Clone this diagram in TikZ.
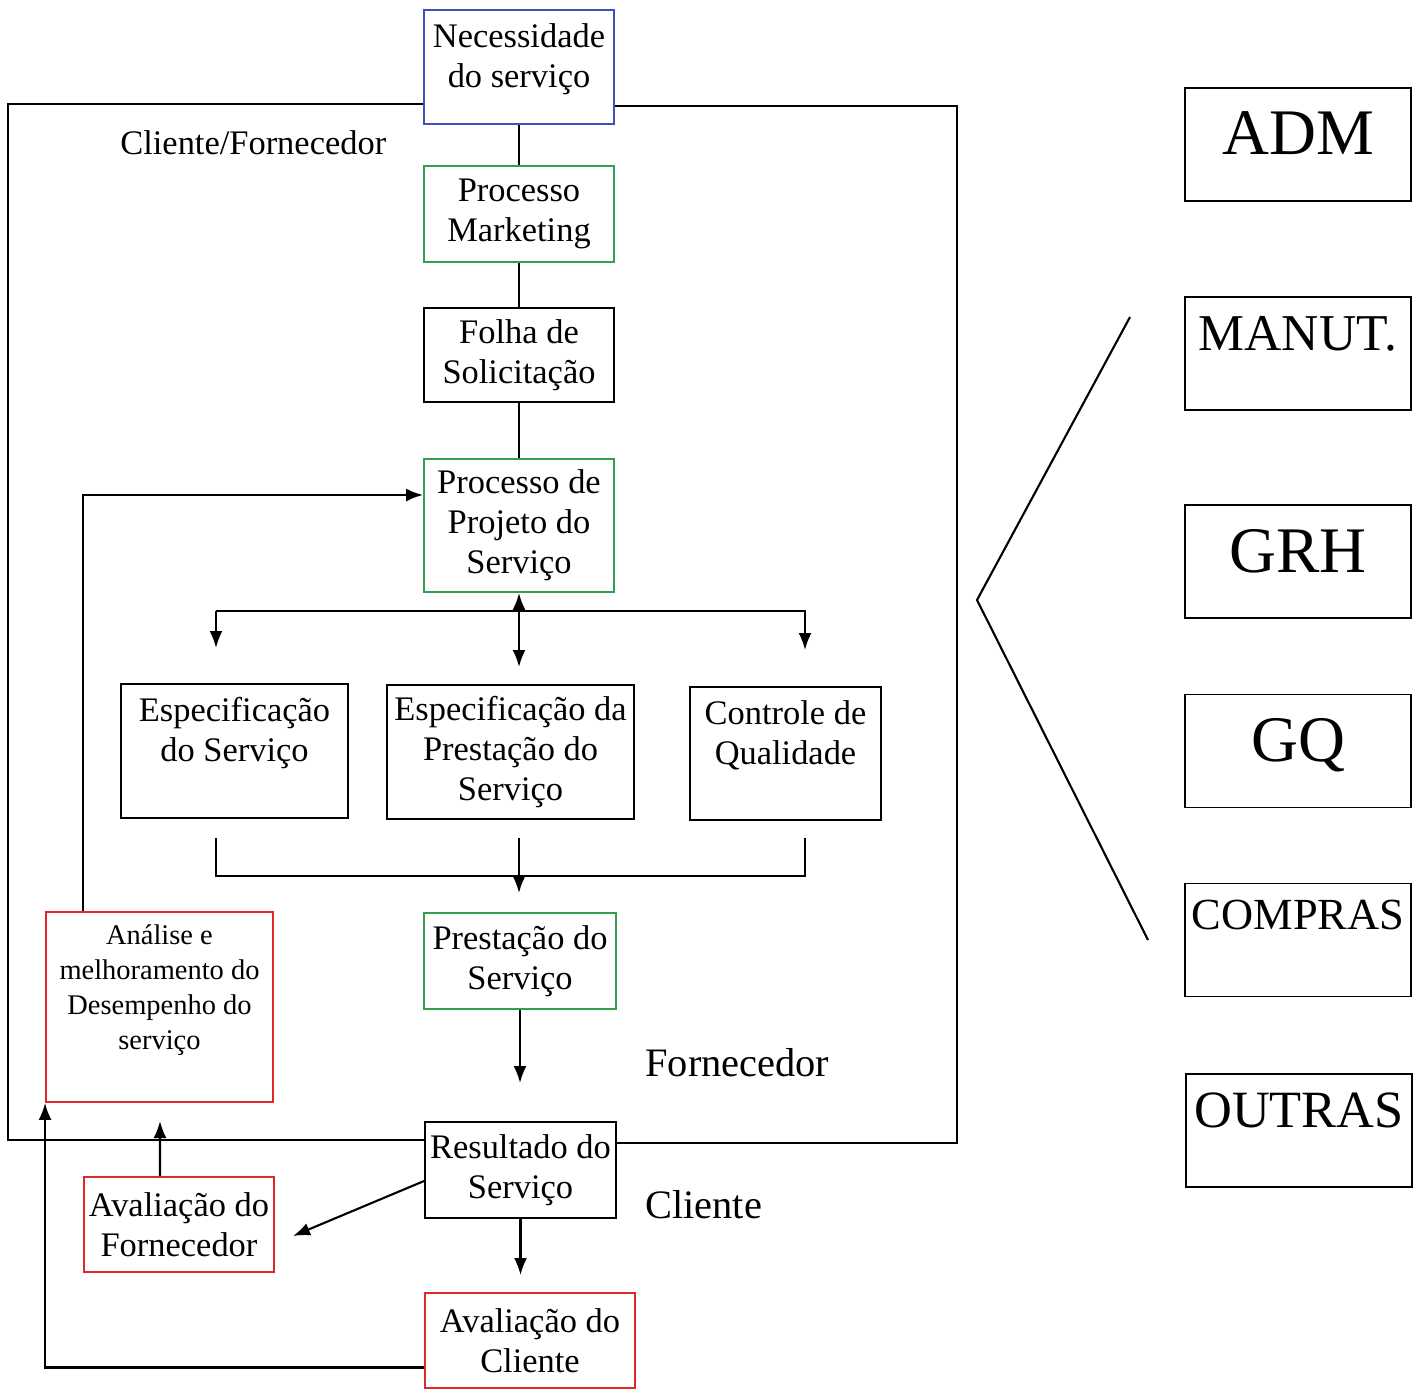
\documentclass[tikz,border=0pt]{standalone}
\usepackage{fontspec}
\setmainfont{Liberation Serif}
\usetikzlibrary{arrows.meta}
\definecolor{bblue}{RGB}{60,80,190}
\definecolor{bgreen}{RGB}{50,160,80}
\definecolor{bred}{RGB}{225,40,40}
\tikzset{
  box/.style={draw, line width=1.1pt, rectangle, align=center, inner sep=0pt,
    font=\fontsize{19.6}{22.8}\selectfont},
  bigbox/.style={draw, line width=1.1pt, rectangle, inner sep=0pt,
    minimum width=4.52cm, minimum height=2.26cm},
  conn/.style={line width=1.2pt},
  arr/.style={line width=1.2pt, -{Latex[length=0.34cm,width=0.26cm]}},
  arrb/.style={line width=1.2pt, {Latex[length=0.34cm,width=0.26cm]}-{Latex[length=0.34cm,width=0.26cm]}},
  lbl/.style={inner sep=0pt}
}
\begin{document}
\begin{tikzpicture}[x=0.02cm,y=-0.02cm]
\useasboundingbox (0,0) rectangle (1423,1393);

% main flow boxes
\node[box, draw=bblue, minimum width=3.8cm, minimum height=2.28cm, text depth=0.45cm] (nec) at (519,67) {Necessidade\\do serviço};
\node[box, draw=bgreen, minimum width=3.8cm, minimum height=1.92cm] (mkt) at (519,214) {Processo\\Marketing};
\node[box, minimum width=3.8cm, minimum height=1.88cm] (fol) at (519,355) {Folha de\\Solicitação};
\node[box, draw=bgreen, minimum width=3.8cm, minimum height=2.66cm] (proj) at (519,525.5) {Processo de\\Projeto do\\Serviço};
\node[box, minimum width=4.54cm, minimum height=2.68cm, text depth=0.85cm] (esp) at (234.5,751) {Especificação\\do Serviço};
\node[box, minimum width=4.94cm, minimum height=2.68cm] (espp) at (510.5,752) {Especificação da\\Prestação do\\Serviço};
\node[box, minimum width=3.82cm, minimum height=2.66cm, text depth=0.85cm] (ctrl) at (785.5,753.5) {Controle de\\Qualidade};
\node[box, draw=bred, minimum width=4.54cm, minimum height=3.8cm, text depth=0.78cm,
      font=\fontsize{16.2}{19.9}\selectfont] (ana) at (159.5,1007) {Análise e\\melhoramento do\\Desempenho do\\serviço};
\node[box, draw=bgreen, minimum width=3.84cm, minimum height=1.92cm] (prest) at (520,961) {Prestação do\\Serviço};
\node[box, minimum width=3.82cm, minimum height=1.92cm] (res) at (520.5,1170) {Resultado do\\Serviço};
\node[box, draw=bred, minimum width=3.8cm, minimum height=1.9cm] (avf) at (179,1224.5) {Avaliação do\\Fornecedor};
\node[box, draw=bred, minimum width=4.2cm, minimum height=1.9cm] (avc) at (530,1340.5) {Avaliação do\\Cliente};

% labels
\node[lbl, font=\fontsize{19.6}{22.8}\selectfont, anchor=west] (cf) at (120,143) {Cliente/Fornecedor};
\node[lbl, font=\fontsize{23}{26}\selectfont, anchor=west] (forn) at (645,1063) {Fornecedor};
\node[lbl, font=\fontsize{23}{26}\selectfont, anchor=west] (cli) at (645,1205) {Cliente};

% right boxes
\node[bigbox, font=\fontsize{37}{40}\selectfont, text depth=0.44cm] (adm) at (1298,144.5) {ADM};
\node[bigbox, font=\fontsize{29.4}{32}\selectfont, text depth=0.8cm] (man) at (1298,353.5) {MANUT.};
\node[bigbox, font=\fontsize{37}{40}\selectfont, text depth=0.44cm] (grh) at (1298,561.5) {GRH};
\node[bigbox, font=\fontsize{37}{40}\selectfont, text depth=0.44cm] (gq) at (1298,751) {GQ};
\node[bigbox, font=\fontsize{25.3}{28}\selectfont, text depth=1.0cm] (com) at (1298,940) {COMPRAS};
\node[bigbox, font=\fontsize{29.8}{32}\selectfont, text depth=0.8cm] (out) at (1299,1130.5) {OUTRAS};

% frame Cliente/Fornecedor
\coordinate (tl) at (8,104);
\coordinate (tr) at (957,106);
\coordinate (br) at (957,1143);
\coordinate (bl) at (8,1140);
\draw[conn] (nec.south west |- tl) -- (tl) -- (bl) -- (res.west |- bl);
\draw[conn] (nec.south east |- tr) -- (tr) -- (br) -- (res.east |- br);

% vertical chain
\draw[conn] (nec.south) -- (mkt.north);
\draw[conn] (mkt.south) -- (fol.north);
\draw[conn] (fol.south) -- (proj.north);

% split
\coordinate (s1) at (216,648);
\coordinate (s1t) at (216,611);
\coordinate (s2t) at (805,611);
\coordinate (s2) at (805,650);
\coordinate (sc) at (519,667);
\draw[arr] (s1t) -- (s1);
\draw[arr] (s1t) -- (s2t) -- (s2);
\draw[arrb] (proj.south) -- (sc);

% merge
\coordinate (m1) at (216,838);
\coordinate (m1b) at (216,876);
\coordinate (m2b) at (805,876);
\coordinate (m2) at (805,838);
\coordinate (mc) at (519,838);
\coordinate (mce) at (519,893);
\draw[conn] (m1) -- (m1b) -- (m2b) -- (m2);
\draw[arr] (mc) -- (mce);

% lower flow
\coordinate (pe) at (520,1083);
\draw[arr] (prest.south) -- (pe);
\coordinate (re) at (520.5,1275);
\draw[arr] (res.south) -- (re);
\coordinate (rf) at (293,1236);
\draw[arr] ([yshift=-0.22cm]res.west) -- (rf);
\coordinate (ae) at (160,1121);
\draw[arr] ([xshift=-0.38cm]avf.north) -- (ae);
\draw[arr] ([yshift=-0.54cm]avc.west) -| (ana.south west);

% feedback loop
\coordinate (lp) at (83,495);
\draw[arr] (ana.north west -| lp) -- (lp) -- (proj.west |- lp);

% bracket
\coordinate (b1) at (1130,317);
\coordinate (b2) at (977,600);
\coordinate (b3) at (1148,940);
\draw[conn] (b1) -- (b2) -- (b3);
\end{tikzpicture}
\end{document}
